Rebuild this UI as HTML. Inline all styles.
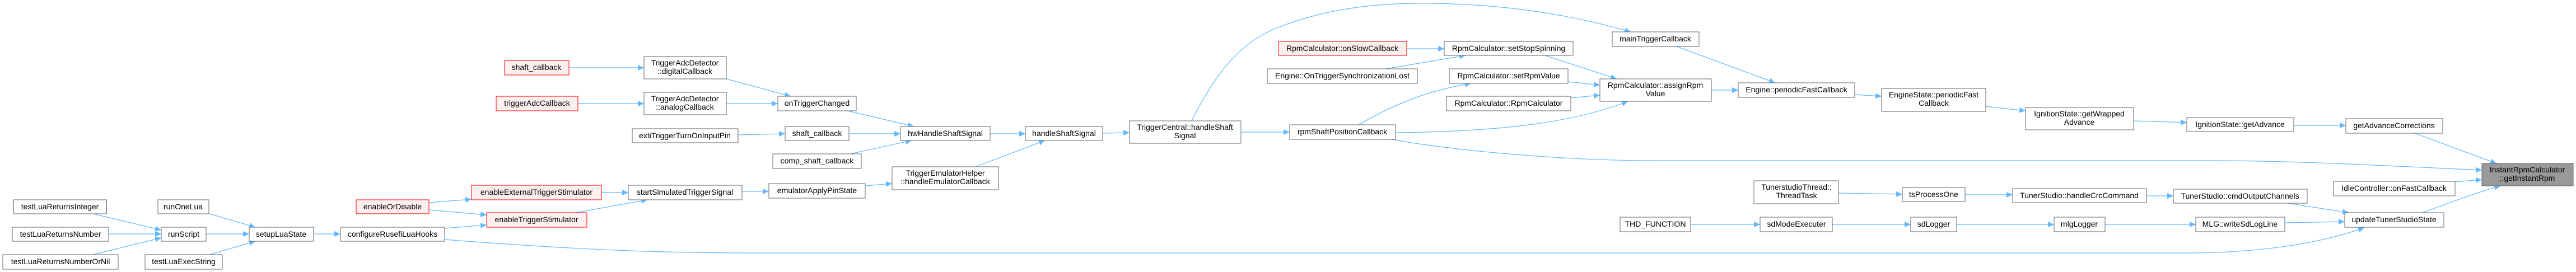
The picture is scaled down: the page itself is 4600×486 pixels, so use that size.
<!DOCTYPE html>
<html><head><meta charset="utf-8"><style>
html,body{margin:0;padding:0;background:#fff;}
svg{display:block;}
text{font-family:"Liberation Sans",sans-serif;font-size:14px;fill:#000;}
.n{fill:#fff;stroke:#666;stroke-width:1;}
.r{fill:#fff0f0;stroke:#f00;stroke-width:1;}
.g{fill:#999;stroke:#666;stroke-width:1;}
.e{fill:none;stroke:#63b8ff;stroke-width:1.2;}
</style></head><body>
<svg width="4600" height="486" viewBox="0 0 4600 486" xmlns="http://www.w3.org/2000/svg">
<defs><marker id="a" markerUnits="userSpaceOnUse" markerWidth="12" markerHeight="10" refX="11" refY="5" orient="auto"><path d="M0,0 L11,5 L0,10 z" fill="#63b8ff"/></marker></defs>
<g class="edges">
<path class="e" marker-end="url(#a)" d="M166,382 L288,411"/>
<path class="e" marker-end="url(#a)" d="M194,418 L288,418"/>
<path class="e" marker-end="url(#a)" d="M166,455 L288,425"/>
<path class="e" marker-end="url(#a)" d="M374,382 L456,406"/>
<path class="e" marker-end="url(#a)" d="M368,418 L445,418"/>
<path class="e" marker-end="url(#a)" d="M374,455 L456,431"/>
<path class="e" marker-end="url(#a)" d="M560,418 L608,418"/>
<path class="e" marker-end="url(#a)" d="M766,362 L842,356"/>
<path class="e" marker-end="url(#a)" d="M766,375 L869,384"/>
<path class="e" marker-end="url(#a)" d="M794,408 L869,402"/>
<path class="e" marker-end="url(#a)" d="M794,428 C1050,448 1200,452 1350,452 L3900,452 C4050,452 4150,432 4222,407"/>
<path class="e" marker-end="url(#a)" d="M1074,344 L1122,344"/>
<path class="e" marker-end="url(#a)" d="M1028,380 L1156,357"/>
<path class="e" marker-end="url(#a)" d="M1325,342 L1373,342"/>
<path class="e" marker-end="url(#a)" d="M1545,332 L1593,328"/>
<path class="e" marker-end="url(#a)" d="M1742,298 L1866,251"/>
<path class="e" marker-end="url(#a)" d="M1016,121 L1150,121"/>
<path class="e" marker-end="url(#a)" d="M1032,185 L1150,185"/>
<path class="e" marker-end="url(#a)" d="M1297,141 L1412,172"/>
<path class="e" marker-end="url(#a)" d="M1297,185 L1389,185"/>
<path class="e" marker-end="url(#a)" d="M1318,241 L1402,239"/>
<path class="e" marker-end="url(#a)" d="M1514,198 L1632,226"/>
<path class="e" marker-end="url(#a)" d="M1516,239 L1608,239"/>
<path class="e" marker-end="url(#a)" d="M1518,275 L1628,251"/>
<path class="e" marker-end="url(#a)" d="M1768,239 L1831,239"/>
<path class="e" marker-end="url(#a)" d="M1969,238 L2017,237"/>
<path class="e" marker-end="url(#a)" d="M2216,236 L2303,236"/>
<path class="e" marker-end="url(#a)" d="M2128,216 C2180,110 2230,70 2280,50 C2380,10 2480,5 2560,6 C2700,8 2820,30 2912,57"/>
<path class="e" marker-end="url(#a)" d="M2512,87 L2579,87"/>
<path class="e" marker-end="url(#a)" d="M2475,123 L2617,99"/>
<path class="e" marker-end="url(#a)" d="M2426,223 C2500,180 2560,160 2627,149"/>
<path class="e" marker-end="url(#a)" d="M2492,237 C2700,235 2820,215 2907,181"/>
<path class="e" marker-end="url(#a)" d="M2485,249 C2600,270 2800,287 2950,287 L3950,287 C4100,287 4300,298 4432,304"/>
<path class="e" marker-end="url(#a)" d="M2759,99 L2887,141"/>
<path class="e" marker-end="url(#a)" d="M2800,146 L2857,152"/>
<path class="e" marker-end="url(#a)" d="M2805,175 L2857,170"/>
<path class="e" marker-end="url(#a)" d="M2994,83 L3170,148"/>
<path class="e" marker-end="url(#a)" d="M3056,161 L3104,161"/>
<path class="e" marker-end="url(#a)" d="M3312,169 L3360,172"/>
<path class="e" marker-end="url(#a)" d="M3546,190 L3617,198"/>
<path class="e" marker-end="url(#a)" d="M3810,216 L3905,219"/>
<path class="e" marker-end="url(#a)" d="M4096,224 L4189,224"/>
<path class="e" marker-end="url(#a)" d="M4312,238 L4458,292"/>
<path class="e" marker-end="url(#a)" d="M4384,325 L4432,321"/>
<path class="e" marker-end="url(#a)" d="M4326,380 C4380,360 4420,345 4465,332"/>
<path class="e" marker-end="url(#a)" d="M3283,345 L3397,347"/>
<path class="e" marker-end="url(#a)" d="M3509,348 L3594,348"/>
<path class="e" marker-end="url(#a)" d="M3833,350 L3881,350"/>
<path class="e" marker-end="url(#a)" d="M4085,363 L4194,380"/>
<path class="e" marker-end="url(#a)" d="M3019,401 L3143,401"/>
<path class="e" marker-end="url(#a)" d="M3272,401 L3412,401"/>
<path class="e" marker-end="url(#a)" d="M3494,401 L3668,401"/>
<path class="e" marker-end="url(#a)" d="M3759,401 L3921,401"/>
<path class="e" marker-end="url(#a)" d="M4080,398 L4187,396"/>
</g>
<g text-anchor="middle">
<rect class="n" x="24.5" y="357" width="166" height="25"/><text x="107" y="374">testLuaReturnsInteger</text>
<rect class="n" x="22" y="406" width="172" height="25"/><text x="108" y="423">testLuaReturnsNumber</text>
<rect class="n" x="5" y="455" width="206" height="26"/><text x="108" y="472">testLuaReturnsNumberOrNil</text>
<rect class="n" x="282" y="357" width="91" height="25"/><text x="327" y="374">runOneLua</text>
<rect class="n" x="288" y="406" width="80" height="25"/><text x="328" y="423">runScript</text>
<rect class="n" x="259" y="455" width="138" height="26"/><text x="328" y="472">testLuaExecString</text>
<rect class="n" x="445" y="406" width="115" height="25"/><text x="502" y="423">setupLuaState</text>
<rect class="n" x="608" y="406" width="186" height="25"/><text x="701" y="423">configureRusefiLuaHooks</text>
<rect class="r" x="636" y="357" width="130" height="25"/><text x="701" y="374">enableOrDisable</text>
<rect class="r" x="901" y="108" width="115" height="26"/><text x="958" y="125">shaft_callback</text>
<rect class="n" x="1150" y="101" width="147" height="40"/><text x="1223" y="117">TriggerAdcDetector</text><text x="1223" y="132">::digitalCallback</text>
<rect class="r" x="886" y="172" width="146" height="26"/><text x="959" y="189">triggerAdcCallback</text>
<rect class="n" x="1150" y="165" width="147" height="40"/><text x="1223" y="181">TriggerAdcDetector</text><text x="1223" y="196">::analogCallback</text>
<rect class="n" x="1389" y="172" width="140" height="26"/><text x="1459" y="189">onTriggerChanged</text>
<rect class="n" x="1129" y="230" width="189" height="25"/><text x="1223" y="247">extiTriggerTurnOnInputPin</text>
<rect class="n" x="1402" y="226" width="114" height="25"/><text x="1459" y="243">shaft_callback</text>
<rect class="n" x="1380" y="275" width="158" height="26"/><text x="1459" y="292">comp_shaft_callback</text>
<rect class="r" x="842" y="331" width="232" height="26"/><text x="958" y="348">enableExternalTriggerStimulator</text>
<rect class="r" x="869" y="380" width="179" height="26"/><text x="958" y="397">enableTriggerStimulator</text>
<rect class="n" x="1122" y="331" width="203" height="26"/><text x="1223" y="348">startSimulatedTriggerSignal</text>
<rect class="n" x="1373" y="328" width="172" height="26"/><text x="1459" y="345">emulatorApplyPinState</text>
<rect class="n" x="1608" y="226" width="160" height="25"/><text x="1688" y="243">hwHandleShaftSignal</text>
<rect class="n" x="1831" y="226" width="138" height="25"/><text x="1900" y="243">handleShaftSignal</text>
<rect class="n" x="1593" y="298" width="190" height="41"/><text x="1688" y="314">TriggerEmulatorHelper</text><text x="1688" y="329">::handleEmulatorCallback</text>
<rect class="n" x="2017" y="216" width="199" height="40"/><text x="2116" y="232">TriggerCentral::handleShaft</text><text x="2116" y="247">Signal</text>
<rect class="r" x="2283" y="74" width="229" height="25"/><text x="2397" y="91">RpmCalculator::onSlowCallback</text>
<rect class="n" x="2579" y="74" width="230" height="25"/><text x="2694" y="91">RpmCalculator::setStopSpinning</text>
<rect class="n" x="2263" y="123" width="268" height="26"/><text x="2397" y="140">Engine::OnTriggerSynchronizationLost</text>
<rect class="n" x="2588" y="123" width="212" height="26"/><text x="2694" y="140">RpmCalculator::setRpmValue</text>
<rect class="n" x="2583" y="172" width="222" height="26"/><text x="2694" y="189">RpmCalculator::RpmCalculator</text>
<rect class="n" x="2857" y="141" width="199" height="40"/><text x="2956" y="157">RpmCalculator::assignRpm</text><text x="2956" y="172">Value</text>
<rect class="n" x="2879" y="57" width="155" height="26"/><text x="2956" y="74">mainTriggerCallback</text>
<rect class="n" x="2303" y="223" width="189" height="26"/><text x="2397" y="240">rpmShaftPositionCallback</text>
<rect class="n" x="2893" y="388" width="126" height="26"/><text x="2956" y="405">THD_FUNCTION</text>
<rect class="n" x="3104" y="148" width="208" height="26"/><text x="3208" y="165">Engine::periodicFastCallback</text>
<rect class="n" x="3360" y="158" width="186" height="41"/><text x="3453" y="174">EngineState::periodicFast</text><text x="3453" y="189">Callback</text>
<rect class="n" x="3617" y="192" width="193" height="40"/><text x="3713" y="208">IgnitionState::getWrapped</text><text x="3713" y="223">Advance</text>
<rect class="n" x="3132" y="323" width="151" height="41"/><text x="3208" y="339">TunerstudioThread::</text><text x="3208" y="354">ThreadTask</text>
<rect class="n" x="3397" y="335" width="112" height="25"/><text x="3453" y="352">tsProcessOne</text>
<rect class="n" x="3594" y="337" width="239" height="25"/><text x="3713" y="354">TunerStudio::handleCrcCommand</text>
<rect class="n" x="3143" y="388" width="129" height="26"/><text x="3208" y="405">sdModeExecuter</text>
<rect class="n" x="3412" y="388" width="82" height="26"/><text x="3453" y="405">sdLogger</text>
<rect class="n" x="3668" y="388" width="91" height="26"/><text x="3713" y="405">mlgLogger</text>
<rect class="n" x="3905" y="210" width="191" height="25"/><text x="4000" y="227">IgnitionState::getAdvance</text>
<rect class="n" x="4189" y="212" width="173" height="26"/><text x="4275" y="229">getAdvanceCorrections</text>
<rect class="g" x="4432" y="292" width="163" height="40"/><text x="4513" y="308">InstantRpmCalculator</text><text x="4513" y="323">::getInstantRpm</text>
<rect class="n" x="4167" y="324" width="217" height="26"/><text x="4275" y="341">IdleController::onFastCallback</text>
<rect class="n" x="3881" y="338" width="239" height="25"/><text x="4000" y="355">TunerStudio::cmdOutputChannels</text>
<rect class="n" x="3921" y="388" width="159" height="26"/><text x="4000" y="405">MLG::writeSdLogLine</text>
<rect class="n" x="4187" y="380" width="177" height="26"/><text x="4275" y="397">updateTunerStudioState</text>
</g>
</svg>
</body></html>
